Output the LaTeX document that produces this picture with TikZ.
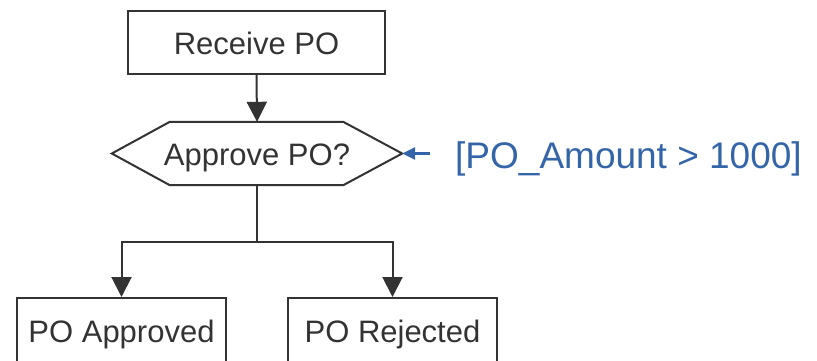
\documentclass[tikz,border=0pt]{standalone}
\usepackage{fontspec}
\setmainfont{Liberation Sans}
\usetikzlibrary{arrows.meta}
\definecolor{ink}{RGB}{51,51,51}
\definecolor{condblue}{RGB}{52,101,168}
\tikzset{
  stepbox/.style={draw=ink, line width=2pt, minimum width=257pt, minimum height=63pt, inner sep=0pt,
    text=ink, font=\fontsize{31}{37}\selectfont, text height=30pt, text depth=6pt},
  endbox/.style={stepbox, minimum width=209pt, minimum height=68pt, text depth=10pt},
  flow/.style={draw=ink, line width=2pt, -{Triangle[length=20pt,width=20pt]}},
  plainline/.style={draw=ink, line width=2pt},
}
\begin{document}
\begin{tikzpicture}[x=1pt,y=-1pt]
\useasboundingbox (0,0) rectangle (817,360);
\node[stepbox] (recv) at (256.5,42.5) {Receive PO};
\node[inner sep=0pt, minimum width=290pt, minimum height=63pt, text=ink, font=\fontsize{31}{37}\selectfont,
  text height=30pt, text depth=6pt] (dec) at (257,153.5) {Approve PO?};
\draw[plainline, line join=miter] (dec.west) -- ([xshift=58pt]dec.north west) -- ([xshift=-59pt]dec.north east) -- (dec.east)
  -- ([xshift=-59pt]dec.south east) -- ([xshift=58pt]dec.south west) -- cycle;
\node[endbox] (app) at (121.5,332) {PO Approved};
\node[endbox] (rej) at (392.5,332) {PO Rejected};
\node[anchor=west, inner sep=0pt, text=condblue, font=\fontsize{37}{44}\selectfont] (cond) at (455,158.5) {[PO\_Amount > 1000]};
\coordinate (split) at (257,242);
\coordinate (condtail) at ([xshift=-25pt]cond.west);
\draw[flow] (recv.south) -- (dec.north);
\draw[plainline] (dec.south) -- (split);
\draw[flow] (split) -| (app.north);
\draw[flow] (split) -| (rej.north);
\draw[draw=condblue, line width=3pt, -{Triangle[length=13pt,width=12pt]}] (condtail |- dec.east) -- (dec.east);
\end{tikzpicture}
\end{document}
